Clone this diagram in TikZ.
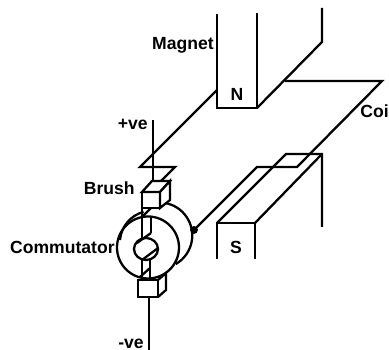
\documentclass[tikz,border=0pt]{standalone}
\usepackage{fontspec}
\setmainfont{Liberation Sans}
\tikzset{
    wire/.style={line width=1.3pt, line join=miter},
    tag/.style={font=\bfseries\fontsize{10}{12}\selectfont, inner sep=0pt}
}
\begin{document}
\begin{tikzpicture}[x=0.02cm, y=0.02cm]
    \useasboundingbox (0,0) rectangle (389,350);

    % North pole
    \draw[wire] (217,336) -- (217,242) -- (257,242) -- (257,337);
    \draw[wire] (257,242) -- (322,308) -- (322,342);

    % South pole
    \draw[wire] (217,91) -- (217,127) -- (255,127) -- (255,91);
    \draw[wire] (217,127) -- (286,196) -- (322,196) -- (322,123);
    \draw[wire] (255,127) -- (322,196);

    % Coil
    \draw[wire] (285,269) -- (382,269) -- (297,183) -- (257,183) -- (194,120);
    \draw[wire] (217,260) -- (140,183) -- (175,183) -- (161,169);

    % Back of commutator
    \draw[wire] (120,110) arc[start angle=175, end angle=105, radius=32];
    \draw[wire] (165,147) arc[start angle=80, end angle=-60, radius=33];

    % Shaft
    \draw[wire] (142,142) -- (142,112);
    \draw[wire] (151,142) -- (142,133);
    \draw[wire] (151,133) -- (151,117);
    \draw[wire] (142,90) -- (142,70);
    \draw[wire] (150,92) -- (150,70);
    \draw[wire] (140,73) -- (150,82);

    % Front of commutator
    \draw[wire] (148,102.5) circle[radius=31];
    \draw[wire] (146,101) ellipse[x radius=12, y radius=11];
    \draw[wire] (151,117) -- (137,107);
    \draw[wire] (158,102) -- (142,90);

    % Upper brush
    \draw[wire, fill=white] (142,158) rectangle (160,142);
    \draw[wire, fill=white] (142,158) -- (152,169) -- (170,169) -- (160,158) -- cycle;
    \draw[wire, fill=white] (160,158) -- (170,169) -- (170,150) -- (160,142) -- cycle;

    % Lower brush
    \draw[wire, fill=white] (138,70) rectangle (158,53);
    \draw[wire] (158,70) -- (166,77) -- (166,60) -- (158,53);

    % Supply leads
    \draw[wire] (153,230) -- (153,169);
    \draw[wire] (149,53) -- (149,0);

    % Slip ring contact
    \node[circle, fill=black, inner sep=0pt, minimum size=4.5pt] (contact) at (194,120) {};

    % Labels
    \node[tag, anchor=east] (magnet) at (214,305) {Magnet};
    \node[tag] (north) at (237,256) {N};
    \node[tag, anchor=west] (coil) at (360,239) {Coil};
    \node[tag, anchor=east] (plus) at (148,226) {+ve};
    \node[tag, anchor=east] (brush) at (135,162) {Brush};
    \node[tag, anchor=east] (comm) at (115,103) {Commutator};
    \node[tag] (south) at (236,103) {S};
    \node[tag, anchor=east] (minus) at (144,6) {-ve};
\end{tikzpicture}
\end{document}
